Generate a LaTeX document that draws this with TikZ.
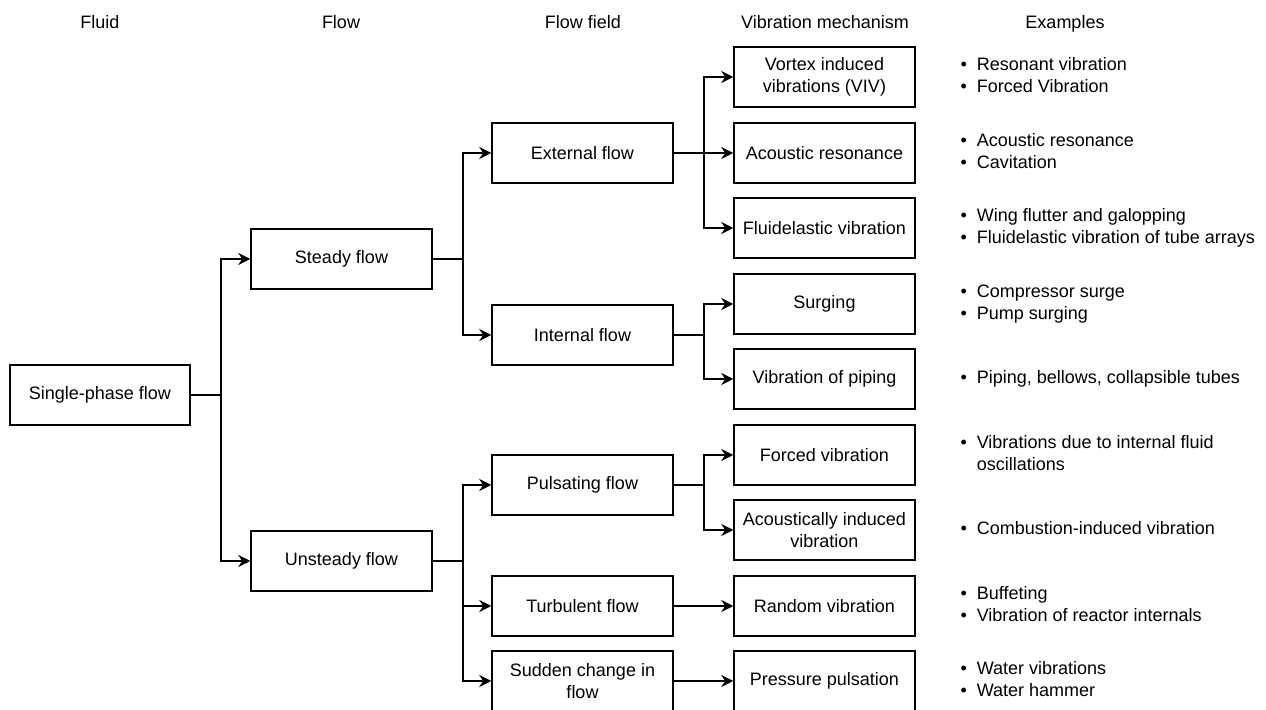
\documentclass[tikz,border=0pt]{standalone}
\usepackage{fontspec}
\setmainfont{Liberation Sans}
\usetikzlibrary{arrows.meta, positioning}

\newcommand{\exlist}[1]{\begin{tabular}{@{}l@{\hspace{5pt}}l@{}}#1\end{tabular}}

\begin{document}
\begin{tikzpicture}[x=0.5pt, y=-0.5pt, >={Stealth[length=6pt, width=6pt, inset=2pt]}, line width=0.75pt,
		font=\fontsize{9}{11}\selectfont,
		box/.style={draw, minimum width=90.5pt, minimum height=30pt, align=center, inner sep=2pt},
		hdr/.style={anchor=base},
		ex/.style={right=22pt of #1, inner sep=0pt, anchor=west}]
		
		\useasboundingbox (0,0) rectangle (1266,710);
		
		% ---------------------------------------------------------
		% Column headers
		% ---------------------------------------------------------
		\node[hdr] (h_fluid) at (100, 29) {Fluid};
		\node[hdr] (h_flow) at (341, 29) {Flow};
		\node[hdr] (h_field) at (583, 29) {Flow field};
		\node[hdr] (h_mech) at (825, 29) {Vibration mechanism};
		\node[hdr] (h_ex) at (1065, 29) {Examples};
		
		% ---------------------------------------------------------
		% Fluid and flow
		% ---------------------------------------------------------
		\node[box, minimum width=90pt] (single_phase) at (100, 395) {Single-phase flow};
		\node[box] (steady) at (341.5, 259) {Steady flow};
		\node[box] (unsteady) at (341.5, 561) {Unsteady flow};
		
		% ---------------------------------------------------------
		% Flow field
		% ---------------------------------------------------------
		\node[box] (external) at (582.5, 153) {External flow};
		\node[box] (internal) at (582.5, 335) {Internal flow};
		\node[box] (pulsating) at (582.5, 485) {Pulsating flow};
		\node[box] (turbulent) at (582.5, 606) {Turbulent flow};
		\node[box] (sudden) at (582.5, 681) {Sudden change in\\flow};
		
		% ---------------------------------------------------------
		% Vibration mechanism
		% ---------------------------------------------------------
		\node[box] (viv) at (824.5, 77) {Vortex induced\\vibrations (VIV)};
		\node[box] (acoustic) at (824.5, 153) {Acoustic resonance};
		\node[box] (fluidelastic) at (824.5, 228) {Fluidelastic vibration};
		\node[box] (surging) at (824.5, 304) {Surging};
		\node[box] (piping) at (824.5, 379) {Vibration of piping};
		\node[box] (forced) at (824.5, 455) {Forced vibration};
		\node[box] (acoust_ind) at (824.5, 530) {Acoustically induced\\vibration};
		\node[box] (random) at (824.5, 606) {Random vibration};
		\node[box] (pressure) at (824.5, 681) {Pressure pulsation};
		
		% ---------------------------------------------------------
		% Examples
		% ---------------------------------------------------------
		\node[ex=viv] (ex_viv) {\exlist{\textbullet & Resonant vibration\\ \textbullet & Forced Vibration}};
		\node[ex=acoustic] (ex_acoustic) {\exlist{\textbullet & Acoustic resonance\\ \textbullet & Cavitation}};
		\node[ex=fluidelastic] (ex_fluidelastic) {\exlist{\textbullet & Wing flutter and galopping\\ \textbullet & Fluidelastic vibration of tube arrays}};
		\node[ex=surging] (ex_surging) {\exlist{\textbullet & Compressor surge\\ \textbullet & Pump surging}};
		\node[ex=piping] (ex_piping) {\exlist{\textbullet & Piping, bellows, collapsible tubes}};
		\node[ex=forced] (ex_forced) {\exlist{\textbullet & Vibrations due to internal fluid\\ & oscillations}};
		\node[ex=acoust_ind] (ex_acoust_ind) {\exlist{\textbullet & Combustion-induced vibration}};
		\node[ex=random] (ex_random) {\exlist{\textbullet & Buffeting\\ \textbullet & Vibration of reactor internals}};
		\node[ex=pressure] (ex_pressure) {\exlist{\textbullet & Water vibrations\\ \textbullet & Water hammer}};
		
		% ---------------------------------------------------------
		% Connectors
		% ---------------------------------------------------------
		\draw[->] (single_phase.east) -- ++(30,0) coordinate (j_fluid) |- (steady.west);
		\draw[->] (j_fluid) |- (unsteady.west);
		
		\draw[->] (steady.east) -- ++(30,0) coordinate (j_steady) |- (external.west);
		\draw[->] (j_steady) |- (internal.west);
		
		\draw[->] (unsteady.east) -- ++(30,0) coordinate (j_unsteady) |- (pulsating.west);
		\draw[->] (j_unsteady) |- (turbulent.west);
		\draw[->] (j_unsteady) |- (sudden.west);
		
		\draw[->] (external.east) -- (acoustic.west);
		\coordinate (j_external) at ([xshift=15pt]external.east);
		\draw[->] (j_external) |- (viv.west);
		\draw[->] (j_external) |- (fluidelastic.west);
		
		\draw[->] (internal.east) -- ++(30,0) coordinate (j_internal) |- (surging.west);
		\draw[->] (j_internal) |- (piping.west);
		
		\draw[->] (pulsating.east) -- ++(30,0) coordinate (j_pulsating) |- (forced.west);
		\draw[->] (j_pulsating) |- (acoust_ind.west);
		
		\draw[->] (turbulent) -- (random);
		\draw[->] (sudden) -- (pressure);
		
	\end{tikzpicture}
\end{document}
